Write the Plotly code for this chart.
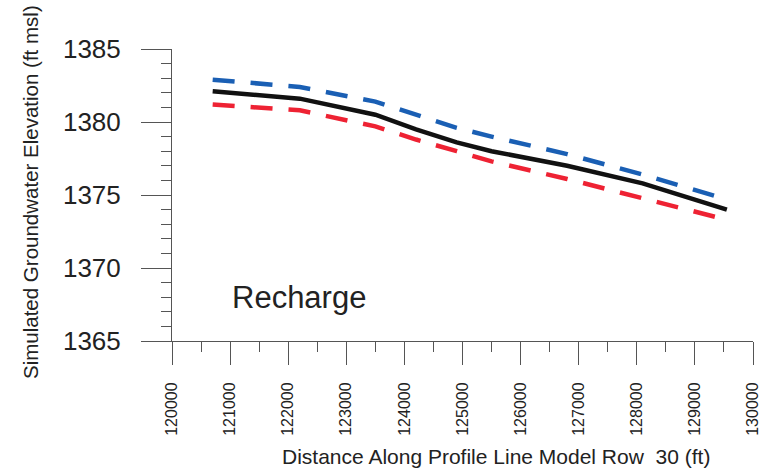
import plotly.graph_objects as go

distance = [120700, 122200, 123500, 124200, 124900, 125500, 126800, 128100, 129550]
base = [1382.1, 1381.6, 1380.5, 1379.5, 1378.6, 1378.0, 1377.0, 1375.8, 1374.0]
high = [1382.9, 1382.4, 1381.4, 1380.5, 1379.6, 1379.0, 1377.8, 1376.4, 1374.7]
low = [1381.2, 1380.8, 1379.7, 1378.8, 1378.0, 1377.3, 1376.1, 1374.8, 1373.3]

x_ticks = [120000 + 1000 * i for i in range(11)]
y_ticks = [1365, 1370, 1375, 1380, 1385]

FONT = "Liberation Sans"

fig = go.Figure()
fig.add_trace(go.Scatter(x=distance, y=high, mode="lines",
                         line=dict(color="#1a5fb4", width=4.5, dash="22px,16px"),
                         showlegend=False))
fig.add_trace(go.Scatter(x=distance, y=low, mode="lines",
                         line=dict(color="#ee2233", width=4.5, dash="22px,16px"),
                         showlegend=False))
fig.add_trace(go.Scatter(x=distance, y=base, mode="lines",
                         line=dict(color="#111111", width=4.5),
                         showlegend=False))

axis_color = "#555555"
fig.update_layout(
    width=765, height=471,
    margin=dict(l=172, r=12, t=49, b=130, autoexpand=False),
    paper_bgcolor="white", plot_bgcolor="white",
    font=dict(family=FONT, color="#222222"),
    xaxis=dict(range=[120000, 130000], tickvals=x_ticks,
               ticktext=[str(v) for v in x_ticks], tickangle=-90,
               ticks="outside", ticklen=23, tickcolor=axis_color, tickwidth=1,
               showline=True, linecolor=axis_color, linewidth=1,
               showgrid=False, zeroline=False, automargin=False,
               tickfont=dict(size=16, family=FONT, color="#222222"),
               ticklabelstandoff=11,
               minor=dict(dtick=500, tick0=120000, ticks="outside", ticklen=10,
                          tickcolor=axis_color, showgrid=False)),
    yaxis=dict(range=[1365, 1385], tickvals=y_ticks,
               ticks="outside", ticklen=30, tickcolor=axis_color, tickwidth=1,
               showline=True, linecolor=axis_color, linewidth=1,
               showgrid=False, zeroline=False, automargin=False,
               tickfont=dict(size=26, family=FONT, color="#222222"),
               ticklabelstandoff=15,
               minor=dict(dtick=1, tick0=1365, ticks="outside", ticklen=10,
                          tickcolor=axis_color, showgrid=False)),
    annotations=[
        dict(text="Recharge", x=121000, y=1368.0, xref="x", yref="y",
             xanchor="left", yanchor="middle", showarrow=False,
             font=dict(size=31, family=FONT, color="#222222")),
        dict(text="Simulated Groundwater Elevation (ft msl)", x=30, y=192,
             xref="paper", yref="paper", showarrow=False, textangle=-90,
             xanchor="center", yanchor="middle",
             font=dict(size=20.5, family=FONT, color="#222222")),
        dict(text="Distance Along Profile Line Model Row  30 (ft)", x=496, y=456,
             xref="paper", yref="paper", showarrow=False,
             xanchor="center", yanchor="middle",
             font=dict(size=21, family=FONT, color="#222222")),
    ],
)

# convert pixel-positioned annotations to paper coordinates
pw, ph = 765 - 172 - 12, 471 - 49 - 130
for a in fig.layout.annotations:
    if a.xref == "paper":
        a.x = (a.x - 172) / pw
        a.y = (471 - 130 - a.y) / ph

fig.write_html("out.html")
